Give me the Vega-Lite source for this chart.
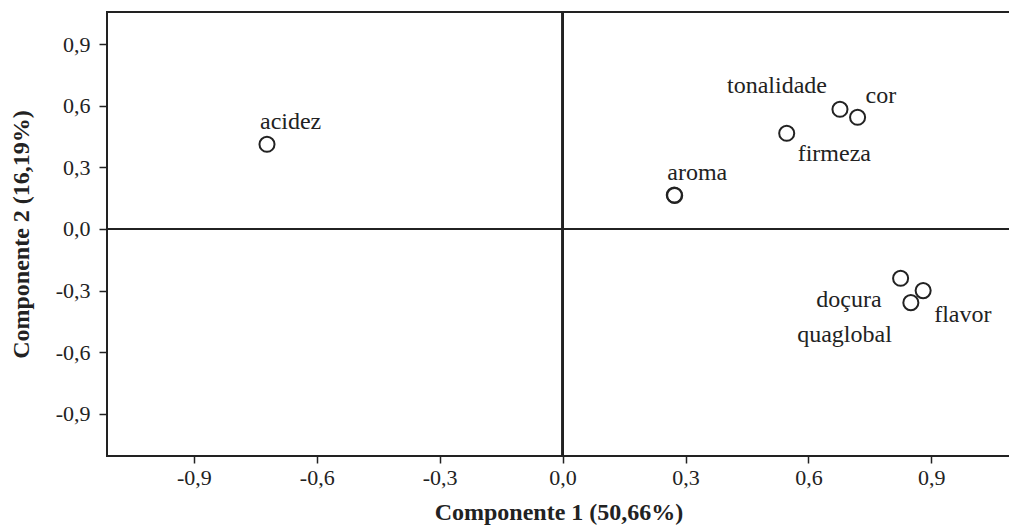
{
  "$schema": "https://vega.github.io/schema/vega-lite/v6.json",
  "width": 903,
  "height": 444,
  "autosize": {"type": "none"},
  "padding": {"left": 107, "top": 12, "right": 0, "bottom": 70},
  "background": "white",
  "config": {
    "view": {"stroke": "#222", "strokeWidth": 2},
    "font": "Liberation Serif",
    "text": {"font": "Liberation Serif", "fontSize": 24, "color": "#222", "baseline": "alphabetic"},
    "axisX": {
      "grid": false, "domain": false,
      "tickColor": "#222", "tickWidth": 1.5, "tickSize": 7,
      "labelFont": "Liberation Serif", "labelFontSize": 22, "labelColor": "#222", "labelPadding": 4,
      "titleFont": "Liberation Serif", "titleFontSize": 24, "titleFontWeight": "bold", "titleColor": "#222", "titlePadding": 12
    },
    "axisY": {
      "grid": false, "domain": false,
      "tickColor": "#222", "tickWidth": 1.5, "tickSize": 8,
      "labelFont": "Liberation Serif", "labelFontSize": 22, "labelColor": "#222", "labelPadding": 9,
      "titleFont": "Liberation Serif", "titleFontSize": 24, "titleFontWeight": "bold", "titleColor": "#222", "titlePadding": 22
    }
  },
  "data": {
    "values": [
      {"var": "acidez", "c1": -0.7215, "c2": 0.412},
      {"var": "aroma", "c1": 0.2726, "c2": 0.165},
      {"var": "", "c1": 0.2736, "c2": 0.163},
      {"var": "tonalidade", "c1": 0.677, "c2": 0.5825},
      {"var": "cor", "c1": 0.72, "c2": 0.5436},
      {"var": "firmeza", "c1": 0.547, "c2": 0.4657},
      {"var": "doçura", "c1": 0.825, "c2": -0.24},
      {"var": "flavor", "c1": 0.88, "c2": -0.3},
      {"var": "quaglobal", "c1": 0.85, "c2": -0.3586}
    ]
  },
  "layer": [
    {
      "mark": {"type": "rule", "color": "#222", "strokeWidth": 1.7},
      "encoding": {
        "x": {"datum": 0, "type": "quantitative", "scale": {"domain": [-1.112, 1.092], "zero": false, "nice": false},
          "axis": {"title": "Componente 1 (50,66%)", "values": [-0.9, -0.6, -0.3, 0, 0.3, 0.6, 0.9],
            "labelExpr": "replace(replace(format(datum.value, '.1f'), '.', ','), '−', '-')"}}
      }
    },
    {
      "mark": {"type": "rule", "color": "#222", "strokeWidth": 1.7},
      "encoding": {
        "y": {"datum": 0, "type": "quantitative", "scale": {"domain": [-1.105, 1.056], "zero": false, "nice": false},
          "axis": {"title": "Componente 2 (16,19%)", "values": [-0.9, -0.6, -0.3, 0, 0.3, 0.6, 0.9],
            "labelExpr": "replace(replace(format(datum.value, '.1f'), '.', ','), '−', '-')"}}
      }
    },
    {
      "mark": {"type": "point", "shape": "circle", "filled": false, "stroke": "#222", "strokeWidth": 2, "size": 227, "opacity": 1},
      "encoding": {
        "x": {
          "field": "c1", "type": "quantitative",
          "scale": {"domain": [-1.112, 1.092], "zero": false, "nice": false},
          "axis": {"title": "Componente 1 (50,66%)", "values": [-0.9, -0.6, -0.3, 0, 0.3, 0.6, 0.9],
            "labelExpr": "replace(replace(format(datum.value, '.1f'), '.', ','), '−', '-')"}
        },
        "y": {
          "field": "c2", "type": "quantitative",
          "scale": {"domain": [-1.105, 1.056], "zero": false, "nice": false},
          "axis": {"title": "Componente 2 (16,19%)", "values": [-0.9, -0.6, -0.3, 0, 0.3, 0.6, 0.9],
            "labelExpr": "replace(replace(format(datum.value, '.1f'), '.', ','), '−', '-')"}
        }
      }
    },
    {
      "transform": [{"filter": {"field": "var", "oneOf": ["acidez", "aroma"]}}],
      "mark": {"type": "text", "align": "left", "dx": -7, "dy": -15},
      "encoding": {"x": {"field": "c1", "type": "quantitative"}, "y": {"field": "c2", "type": "quantitative"}, "text": {"field": "var"}}
    },
    {
      "transform": [{"filter": {"field": "var", "equal": "tonalidade"}}],
      "mark": {"type": "text", "align": "right", "dx": -13, "dy": -16},
      "encoding": {"x": {"field": "c1", "type": "quantitative"}, "y": {"field": "c2", "type": "quantitative"}, "text": {"field": "var"}}
    },
    {
      "transform": [{"filter": {"field": "var", "equal": "cor"}}],
      "mark": {"type": "text", "align": "left", "dx": 8, "dy": -14},
      "encoding": {"x": {"field": "c1", "type": "quantitative"}, "y": {"field": "c2", "type": "quantitative"}, "text": {"field": "var"}}
    },
    {
      "transform": [{"filter": {"field": "var", "equal": "firmeza"}}],
      "mark": {"type": "text", "align": "left", "dx": 11, "dy": 28},
      "encoding": {"x": {"field": "c1", "type": "quantitative"}, "y": {"field": "c2", "type": "quantitative"}, "text": {"field": "var"}}
    },
    {
      "transform": [{"filter": {"field": "var", "equal": "flavor"}}],
      "mark": {"type": "text", "align": "left", "dx": 11, "dy": 31},
      "encoding": {"x": {"field": "c1", "type": "quantitative"}, "y": {"field": "c2", "type": "quantitative"}, "text": {"field": "var"}}
    },
    {
      "transform": [{"filter": {"field": "var", "equal": "doçura"}}],
      "mark": {"type": "text", "align": "right", "dx": -19, "dy": 29},
      "encoding": {"x": {"field": "c1", "type": "quantitative"}, "y": {"field": "c2", "type": "quantitative"}, "text": {"field": "var"}}
    },
    {
      "transform": [{"filter": {"field": "var", "equal": "quaglobal"}}],
      "mark": {"type": "text", "align": "right", "dx": -19, "dy": 39},
      "encoding": {"x": {"field": "c1", "type": "quantitative"}, "y": {"field": "c2", "type": "quantitative"}, "text": {"field": "var"}}
    }
  ]
}
